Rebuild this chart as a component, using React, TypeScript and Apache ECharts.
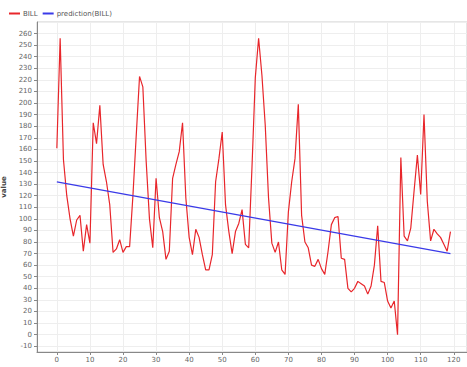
import React, { useEffect, useRef } from "react";
import * as echarts from "echarts";

const billValues = [
  161, 256, 151, 120, 100, 85, 99, 103, 72, 95,
  79, 183, 165, 198, 147, 132, 112, 71, 74, 82,
  71, 76, 76, 120, 172, 223, 214, 150, 100, 75,
  135, 101, 89, 65, 72, 135, 147, 158, 183, 118,
  84, 69, 91, 84, 69, 56, 56, 69, 132, 152,
  175, 112, 89, 70, 89, 96, 108, 78, 75, 145,
  222, 256, 224, 181, 118, 79, 71, 80, 56, 52,
  106, 132, 152, 199, 103, 80, 75, 60, 59, 65,
  57, 52, 72, 95, 101, 102, 66, 65, 40, 37,
  40, 46, 44, 42, 35, 42, 60, 94, 46, 45,
  29, 23, 29, 0, 153, 85, 81, 92, 124, 155,
  121, 190, 115, 81, 91, 87, 84, 78, 72, 89,
];

const predictionIndex = [0, 119];
const predictionValues = [132, 70];

const seriesNames = ["BILL", "prediction(BILL)"];

export default function App() {
  const ref = useRef<HTMLDivElement>(null);
  useEffect(() => {
    if (!ref.current) return;
    const chart = echarts.init(ref.current, undefined, { renderer: "svg" });
    const axisLabel = { fontSize: 7, color: "#666", fontFamily: "DejaVu Sans" };
    chart.setOption({
      animation: false,
      backgroundColor: "#fff",
      legend: {
        left: 4,
        top: 5,
        itemWidth: 11,
        itemHeight: 2,
        itemGap: 5,
        icon: "rect",
        textStyle: { fontSize: 7, color: "#555", fontFamily: "DejaVu Sans", padding: [0, 0, 0, -2] },
        data: seriesNames,
      },
      grid: {
        left: 37,
        right: 0,
        top: 22,
        bottom: 15,
        containLabel: false,
        outerBoundsMode: "none",
        show: true,
        borderColor: "#ccc",
        borderWidth: 1,
      },
      xAxis: {
        type: "value",
        min: -6,
        max: 124,
        minInterval: 10,
        maxInterval: 10,
        splitNumber: 13,
        name: "Index",
        nameLocation: "middle",
        nameGap: 13,
        nameTextStyle: { fontSize: 7, fontWeight: "bold", color: "#444", fontFamily: "DejaVu Sans" },
        axisLine: { show: true, onZero: false, lineStyle: { color: "#888" } },
        axisTick: { show: true, length: 3, lineStyle: { color: "#888" } },
        axisLabel: { ...axisLabel, margin: 4, showMinLabel: false, showMaxLabel: false },
        splitLine: { show: true, lineStyle: { color: "#eee" } },
      },
      yAxis: {
        type: "value",
        min: -15,
        max: 270,
        minInterval: 10,
        maxInterval: 10,
        splitNumber: 28,
        name: "value",
        nameLocation: "middle",
        nameGap: 24,
        nameTextStyle: { fontSize: 7, fontWeight: "bold", color: "#444", fontFamily: "DejaVu Sans" },
        axisLine: { show: true, onZero: false, lineStyle: { color: "#888" } },
        axisTick: { show: true, length: 3, lineStyle: { color: "#888" } },
        axisLabel: { ...axisLabel, margin: 5, showMinLabel: false, showMaxLabel: false },
        splitLine: { show: true, lineStyle: { color: "#eee" } },
      },
      series: [
        {
          name: seriesNames[0],
          type: "line",
          showSymbol: false,
          symbol: "none",
          color: "#e8262b",
          lineStyle: { width: 1.2, color: "#e8262b" },
          data: billValues.map((v, i) => [i, v]),
        },
        {
          name: seriesNames[1],
          type: "line",
          showSymbol: false,
          symbol: "none",
          color: "#3a3ae8",
          lineStyle: { width: 1.2, color: "#3a3ae8" },
          data: predictionIndex.map((x, i) => [x, predictionValues[i]]),
        },
      ],
    });
    return () => chart.dispose();
  }, []);
  return (
    <div
      ref={ref}
      style={{ position: "fixed", left: 0, top: 0, width: 467, height: 367 }}
    />
  );
}
